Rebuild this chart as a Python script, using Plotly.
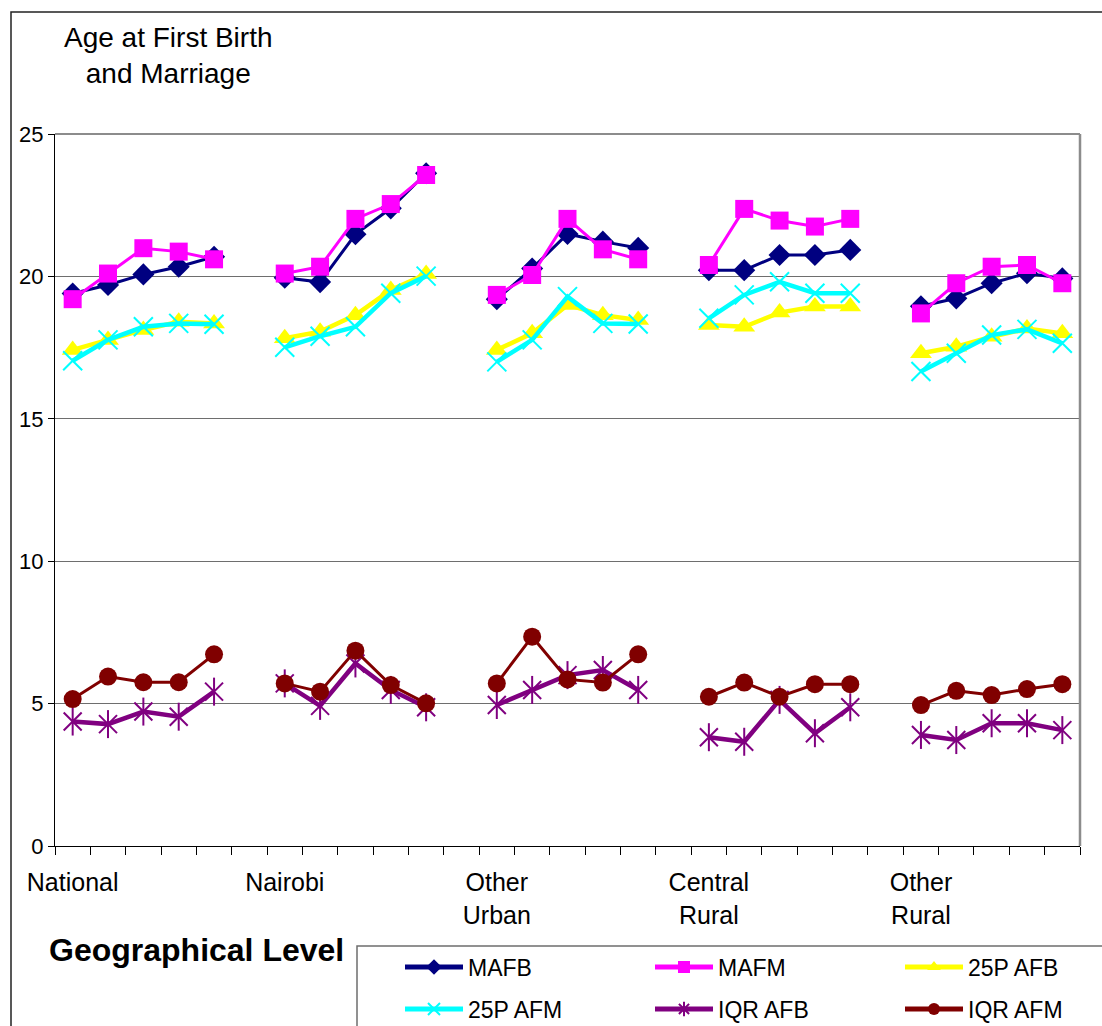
import plotly.graph_objects as go

# Geographical levels (tick labels) and the five observations drawn in each level
groups = ["National", "Nairobi", "Other<br>Urban", "Central<br>Rural", "Other<br>Rural"]
points_per_group = 5

# Series values, five per geographical level, in the order of `groups`
mafb = [19.40, 19.70, 20.07, 20.34, 20.69,
        19.95, 19.80, 21.48, 22.39, 23.62,
        19.20, 20.28, 21.49, 21.22, 21.00,
        20.22, 20.22, 20.75, 20.75, 20.93,
        18.95, 19.23, 19.76, 20.11, 19.93]
mafm = [19.20, 20.10, 20.99, 20.87, 20.60,
        20.10, 20.34, 22.02, 22.54, 23.56,
        19.35, 20.05, 22.02, 20.95, 20.60,
        20.40, 22.37, 21.96, 21.75, 22.02,
        18.70, 19.76, 20.34, 20.40, 19.76]
p25_afb = [17.42, 17.77, 18.12, 18.41, 18.35,
           17.83, 18.06, 18.64, 19.52, 20.08,
           17.42, 18.00, 19.00, 18.64, 18.47,
           18.29, 18.23, 18.73, 18.94, 18.94,
           17.30, 17.53, 17.88, 18.17, 18.00]
p25_afm = [17.04, 17.77, 18.23, 18.35, 18.32,
           17.51, 17.90, 18.23, 19.41, 20.01,
           17.00, 17.77, 19.29, 18.35, 18.33,
           18.53, 19.35, 19.81, 19.41, 19.41,
           16.66, 17.30, 17.94, 18.14, 17.65]
iqr_afb = [4.37, 4.28, 4.72, 4.54, 5.42,
           5.71, 4.92, 6.41, 5.48, 4.87,
           4.95, 5.48, 6.00, 6.18, 5.48,
           3.82, 3.66, 5.13, 3.96, 4.87,
           3.90, 3.72, 4.31, 4.31, 4.07]
iqr_afm = [5.16, 5.95, 5.75, 5.75, 6.73,
           5.71, 5.42, 6.86, 5.65, 5.01,
           5.71, 7.35, 5.85, 5.74, 6.73,
           5.24, 5.74, 5.24, 5.68, 5.68,
           4.95, 5.45, 5.30, 5.51, 5.68]

# Category slots: each level takes 5 slots followed by one empty slot
slot = points_per_group + 1
n_slots = len(groups) * slot - 1


def spread(values):
    """Place the values on the category slots, leaving the gaps empty."""
    xs, ys = [], []
    for g in range(len(groups)):
        for k in range(slot):
            pos = g * slot + k + 1
            if pos > n_slots:
                break
            xs.append(pos)
            ys.append(values[g * points_per_group + k] if k < points_per_group else None)
    return xs, ys


FONT = "Liberation Sans, Arial, sans-serif"
fig = go.Figure()


def add_series(name, values, color, width, symbol, size, legend, line_marker=None):
    xs, ys = spread(values)
    fig.add_trace(go.Scatter(
        x=xs, y=ys, name=name, mode="lines+markers", connectgaps=False,
        line=dict(color=color, width=width),
        marker=dict(symbol=symbol, size=size, color=color,
                    line=dict(color=color, width=line_marker or 0)),
        legend=legend, hoverinfo="x+y+name",
    ))


add_series("MAFB", mafb, "#000080", 3, "diamond", 17, "legend")
add_series("MAFM", mafm, "#FF00FF", 3, "square", 18, "legend")
add_series("25P AFB", p25_afb, "#FFFF00", 4.5, "triangle-up", 19, "legend")
add_series("25P AFM", p25_afm, "#00FFFF", 4.5, "x-thin-open", 19, "legend2", line_marker=2)

# IQR AFB: six-armed star = thin x plus a vertical stroke
xs, ys = spread(iqr_afb)
fig.add_trace(go.Scatter(
    x=xs, y=ys, name="IQR AFB", mode="lines+markers", connectgaps=False,
    line=dict(color="#800080", width=4.5),
    marker=dict(symbol="x-thin-open", size=18, color="#800080",
                line=dict(color="#800080", width=2)),
    legend="legend2", showlegend=False, legendgroup="iqrafb",
))
fig.add_trace(go.Scatter(
    x=xs, y=ys, name="IQR AFB", mode="markers",
    marker=dict(symbol="line-ns-open", size=20, color="#800080",
                line=dict(color="#800080", width=2)),
    legend="legend2", showlegend=False, legendgroup="iqrafb", hoverinfo="skip",
))
fig.add_trace(go.Scatter(
    x=[None], y=[None], name="IQR AFB", mode="lines+markers",
    line=dict(color="#800080", width=4.5),
    marker=dict(symbol="asterisk-open", size=14, color="#800080",
                line=dict(color="#800080", width=2)),
    legend="legend2", legendgroup="iqrafb",
))

add_series("IQR AFM", iqr_afm, "#800000", 3, "circle", 18, "legend2")

# Paper-coordinate helpers based on the plot area geometry
W, H = 1102, 1026
L, R, T, B = 55, 22, 134, 180
pw, ph = W - L - R, H - T - B


def px(x):
    return (x - L) / pw


def py(y):
    return (H - B - y) / ph


legend_common = dict(
    orientation="h", xanchor="left", yanchor="middle",
    bgcolor="rgba(0,0,0,0)", borderwidth=0,
    font=dict(family=FONT, size=23, color="#000000"),
    itemsizing="constant", itemwidth=58,
    entrywidth=177, entrywidthmode="pixels",
    itemclick=False, itemdoubleclick=False,
)

fig.update_layout(
    width=W, height=H,
    margin=dict(l=L, r=R, t=T, b=B, autoexpand=False),
    paper_bgcolor="#FFFFFF", plot_bgcolor="#FFFFFF",
    font=dict(family=FONT, color="#000000"),
    showlegend=True,
    legend=dict(x=px(400), y=py(967), **legend_common),
    legend2=dict(x=px(400), y=py(1009), **legend_common),
    xaxis=dict(
        range=[0.5, n_slots + 0.5],
        tickmode="array",
        tickvals=[g * slot + 1 for g in range(len(groups))],
        ticktext=groups,
        ticks="",
        tickfont=dict(family=FONT, size=25, color="#000000"),
        showline=True, linecolor="#000000", linewidth=1,
        showgrid=False, zeroline=False,
        minor=dict(tickmode="linear", tick0=0.5, dtick=1, ticks="outside",
                   ticklen=8, tickcolor="#000000", tickwidth=1, showgrid=False),
        ticklabelstandoff=14,
        fixedrange=True,
    ),
    yaxis=dict(
        range=[0, 25], dtick=5, tick0=0,
        ticks="outside", ticklen=6, tickcolor="#000000",
        tickfont=dict(family=FONT, size=22, color="#000000"),
        showline=True, linecolor="#000000", linewidth=1,
        showgrid=True, gridcolor="#6e6e6e", gridwidth=1,
        zeroline=False,
        fixedrange=True,
    ),
    shapes=[
        # outer chart frame
        dict(type="rect", xref="paper", yref="paper",
             x0=px(11), x1=px(1200), y0=py(1100), y1=py(12),
             line=dict(color="#222222", width=1.5), layer="below"),
        # plot area frame, top and right sides
        dict(type="line", xref="paper", yref="paper", x0=0, x1=1, y0=1, y1=1,
             line=dict(color="#8c8c8c", width=2)),
        dict(type="line", xref="paper", yref="paper", x0=1, x1=1, y0=0, y1=1,
             line=dict(color="#8c8c8c", width=2.5)),
        # legend box
        dict(type="rect", xref="paper", yref="paper",
             x0=px(357), x1=px(1200), y0=py(1100), y1=py(946),
             line=dict(color="#6e6e6e", width=1.5), fillcolor="rgba(0,0,0,0)"),
    ],
    annotations=[
        dict(text="Age at First Birth<br>and Marriage", xref="paper", yref="paper",
             x=px(168), y=py(55), xanchor="center", yanchor="middle",
             showarrow=False, align="center",
             font=dict(family=FONT, size=28, color="#000000")),
        dict(text="<b>Geographical Level</b>", xref="paper", yref="paper",
             x=px(47), y=py(950), xanchor="left", yanchor="middle",
             showarrow=False, font=dict(family=FONT, size=32, color="#000000")),
    ],
)

fig.write_html("out.html")
